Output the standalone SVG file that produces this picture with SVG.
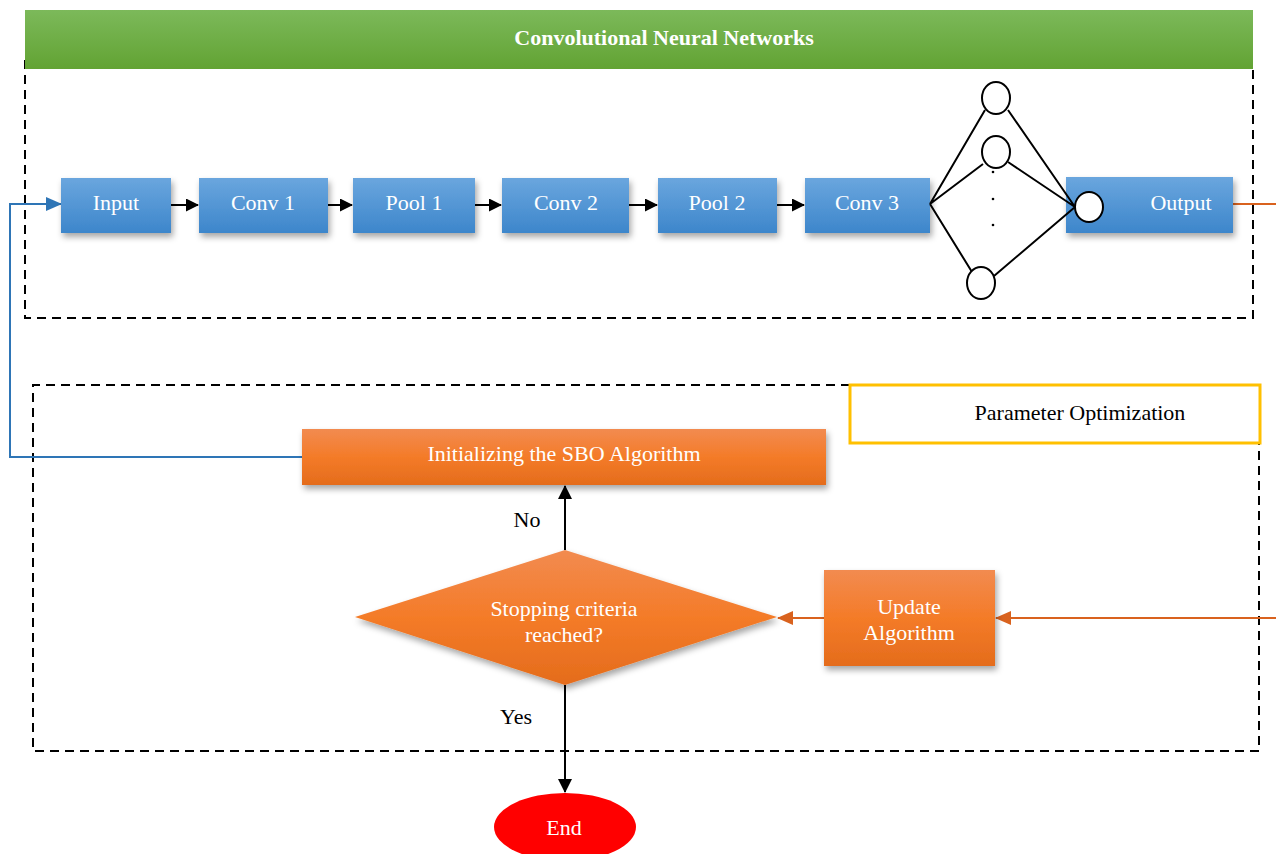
<svg xmlns="http://www.w3.org/2000/svg" width="1276" height="854" viewBox="0 0 1276 854">
<style>
text{font-family:"Liberation Serif","Times New Roman",serif;}
.w{fill:#fff;font-size:22px;text-anchor:middle;dominant-baseline:central;}
.k{fill:#000;font-size:22px;text-anchor:middle;dominant-baseline:central;}
.blue{fill:url(#gb);filter:url(#sh);}
.org{fill:url(#go);filter:url(#sh);}
.dash{fill:none;stroke:#000;stroke-width:2;stroke-dasharray:9 6;}
.blk{stroke:#000;stroke-width:2;fill:none;}
.nn{stroke:#000;stroke-width:2;fill:#fff;}
</style>
<defs>
<linearGradient id="gb" x1="0" y1="0" x2="0" y2="1"><stop offset="0" stop-color="#6aa6de"/><stop offset="1" stop-color="#3d86cb"/></linearGradient>
<linearGradient id="go" x1="0" y1="0" x2="0" y2="1"><stop offset="0" stop-color="#f28b50"/><stop offset="0.5" stop-color="#f47b28"/><stop offset="1" stop-color="#e46c1c"/></linearGradient>
<linearGradient id="gg" x1="0" y1="0" x2="0" y2="1"><stop offset="0" stop-color="#7cb95a"/><stop offset="1" stop-color="#62a333"/></linearGradient>
<filter id="sh" x="-10%" y="-20%" width="130%" height="160%"><feDropShadow dx="2" dy="4" stdDeviation="3" flood-color="#000" flood-opacity="0.35"/></filter>
<marker id="ak" markerWidth="13" markerHeight="13" refX="12" refY="6.5" orient="auto" markerUnits="userSpaceOnUse" viewBox="0 0 13 13"><path d="M0,0 L13,6.5 L0,13 z" fill="#000"/></marker>
<marker id="akb" markerWidth="14" markerHeight="14" refX="13" refY="7" orient="auto" markerUnits="userSpaceOnUse" viewBox="0 0 14 14"><path d="M0,0 L14,7 L0,14 z" fill="#000"/></marker>
<marker id="ab" markerWidth="16" markerHeight="14" refX="15" refY="7" orient="auto" markerUnits="userSpaceOnUse" viewBox="0 0 16 14"><path d="M0,0 L16,7 L0,14 z" fill="#2e75b6"/></marker>
<marker id="ao" markerWidth="16" markerHeight="14" refX="15" refY="7" orient="auto" markerUnits="userSpaceOnUse" viewBox="0 0 16 14"><path d="M0,0 L16,7 L0,14 z" fill="#d9621e"/></marker>
</defs>
<rect width="1276" height="854" fill="#fff"/>

<g id="cnn-frame">
<path class="dash" d="M25,60 V318 H1253 V69"/>
<rect x="25" y="10" width="1228" height="59" fill="url(#gg)"/>
<text x="664" y="37" fill="#fff" font-size="22" font-weight="bold" text-anchor="middle" dominant-baseline="central">Convolutional Neural Networks</text>
</g>

<g id="opt-frame">
<path class="dash" d="M850,385 H33 V751 H1259 V443"/>
<rect x="850" y="385" width="410" height="58" fill="#fff" stroke="#ffc000" stroke-width="3"/>
<text class="k" x="1080" y="412">Parameter Optimization</text>
</g>

<g id="connectors">
<line class="blk" x1="171" y1="205" x2="198" y2="205" marker-end="url(#ak)"/>
<line class="blk" x1="328" y1="205" x2="352" y2="205" marker-end="url(#ak)"/>
<line class="blk" x1="475" y1="205" x2="501" y2="205" marker-end="url(#ak)"/>
<line class="blk" x1="629" y1="205" x2="657" y2="205" marker-end="url(#ak)"/>
<line class="blk" x1="777" y1="205" x2="804" y2="205" marker-end="url(#ak)"/>
<polyline points="302,457 10,457 10,204 61,204" fill="none" stroke="#2e75b6" stroke-width="2" marker-end="url(#ab)"/>
<line x1="1233" y1="204" x2="1276" y2="204" stroke="#d9621e" stroke-width="2"/>
<line x1="1276" y1="618" x2="996" y2="618" stroke="#d9621e" stroke-width="2" marker-end="url(#ao)"/>
<line x1="824" y1="618" x2="778" y2="618" stroke="#d9621e" stroke-width="2" marker-end="url(#ao)"/>
<line class="blk" x1="565" y1="550" x2="565" y2="486" marker-end="url(#akb)"/>
<line class="blk" x1="565" y1="685" x2="565" y2="792" marker-end="url(#akb)"/>
<text class="k" x="527" y="519">No</text>
<text class="k" x="516" y="716">Yes</text>
</g>

<g id="input"><rect class="blue" x="61" y="178" width="110" height="55"/><text class="w" x="116" y="202">Input</text></g>
<g id="conv1"><rect class="blue" x="199" y="178" width="129" height="55"/><text class="w" x="263" y="202">Conv 1</text></g>
<g id="pool1"><rect class="blue" x="353" y="178" width="122" height="55"/><text class="w" x="414" y="202">Pool 1</text></g>
<g id="conv2"><rect class="blue" x="502" y="178" width="127" height="55"/><text class="w" x="566" y="202">Conv 2</text></g>
<g id="pool2"><rect class="blue" x="658" y="178" width="119" height="55"/><text class="w" x="717" y="202">Pool 2</text></g>
<g id="conv3"><rect class="blue" x="805" y="178" width="125" height="55"/><text class="w" x="867" y="202">Conv 3</text></g>
<g id="output"><rect class="blue" x="1066" y="177" width="167" height="56"/><text class="w" x="1181" y="202">Output</text></g>

<g id="neural-layer">
<path class="blk" d="M930,204 L985,110 M930,204 L983,164 M930,204 L972,272 M1008,110 L1075,207 M1008,162 L1075,207 M994,276 L1075,207"/>
<ellipse class="nn" cx="996" cy="98" rx="14" ry="16"/>
<ellipse class="nn" cx="996" cy="152" rx="14" ry="16"/>
<ellipse class="nn" cx="981" cy="283" rx="14" ry="16"/>
<ellipse class="nn" cx="1089" cy="207" rx="14" ry="15"/>
<circle cx="993" cy="172" r="1.3" fill="#000"/>
<circle cx="993" cy="199" r="1.3" fill="#000"/>
<circle cx="993" cy="225" r="1.3" fill="#000"/>
</g>

<g id="init-sbo"><rect class="org" x="302" y="429" width="524" height="56"/><text class="w" x="564" y="453">Initializing the SBO Algorithm</text></g>
<g id="stopping"><polygon class="org" points="565,550 777,617 565,685 355,617"/><text class="w" x="564" y="608">Stopping criteria</text><text class="w" x="564" y="634">reached?</text></g>
<g id="update"><rect class="org" x="824" y="570" width="171" height="96"/><text class="w" x="909" y="606">Update</text><text class="w" x="909" y="632">Algorithm</text></g>
<g id="end"><ellipse cx="565" cy="827" rx="71" ry="34" fill="#ff0000"/><text class="w" x="564" y="827">End</text></g>
</svg>
